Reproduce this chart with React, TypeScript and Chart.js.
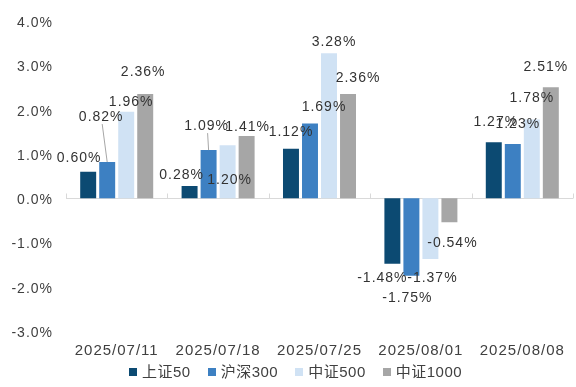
import React, { useEffect, useRef } from 'react';
import { Chart, registerables } from 'chart.js';

Chart.register(...registerables);

const categories = ['2025/07/11', '2025/07/18', '2025/07/25', '2025/08/01', '2025/08/08'];
const seriesNames = ['上证50', '沪深300', '中证500', '中证1000'];
const sz50 = [0.6, 0.28, 1.12, -1.48, 1.27];
const hs300 = [0.82, 1.09, 1.69, -1.75, 1.23];
const zz500 = [1.96, 1.2, 3.28, -1.37, 1.78];
const zz1000 = [2.36, 1.41, 2.36, -0.54, 2.51];
const yMin = -3;
const yMax = 4;
const yStep = 1;

const COLORS = ['#0c4a72', '#3d80c2', '#d0e2f4', '#a6a6a6'];
const FONT = "'Liberation Sans', 'Noto Sans CJK SC', sans-serif";

// label nudges (dx, dy) relative to bar top, mimicking the reference placement
const LABEL_NUDGE: number[][][] = [
  [[-9, -14], [-8, -11], [0, -17], [-10, 14], [2, -20]],
  [[-6, -45], [-2, -24], [14, -16], [-4, 22], [5, -20]],
  [[5, -9], [2, 35], [5, -11], [2, 19], [0, -21]],
  [[-2, -22], [1, -9], [10, -16], [3, 21], [-5, -20]],
];
const LEADERS: [number, number][] = [[1, 0], [1, 1]];

const spacingPlugin = {
  id: 'spacing',
  beforeDraw(chart: any) {
    chart.ctx.letterSpacing = '1px';
  },
  afterDraw(chart: any) {
    chart.ctx.letterSpacing = '0px';
  },
};

const axisPlugin = {
  id: 'zeroAxis',
  beforeDatasetsDraw(chart: any) {
    const { ctx, chartArea, scales } = chart;
    const y0 = Math.round(scales.y.getPixelForValue(0)) + 0.5;
    ctx.save();
    ctx.strokeStyle = '#d9d9d9';
    ctx.lineWidth = 1;
    ctx.beginPath();
    ctx.moveTo(chartArea.left, y0);
    ctx.lineTo(chartArea.right, y0);
    const n = categories.length;
    const w = (chartArea.right - chartArea.left) / n;
    for (let i = 0; i <= n; i++) {
      const x = Math.round(chartArea.left + i * w) + 0.5;
      ctx.moveTo(x, y0);
      ctx.lineTo(x, y0 - 5);
    }
    ctx.stroke();
    ctx.restore();
  },
};

const labelPlugin = {
  id: 'barLabels',
  afterDatasetsDraw(chart: any) {
    const { ctx } = chart;
    ctx.save();
    ctx.font = `14px ${FONT}`;
    ctx.fillStyle = '#333333';
    ctx.textAlign = 'center';
    ctx.textBaseline = 'middle';
    chart.data.datasets.forEach((ds: any, i: number) => {
      const meta = chart.getDatasetMeta(i);
      meta.data.forEach((bar: any, j: number) => {
        const v = ds.data[j] as number;
        const [dx, dy] = LABEL_NUDGE[i][j];
        const lx = bar.x + dx;
        const ly = bar.y + dy;
        if (LEADERS.some(([a, b]) => a === i && b === j)) {
          ctx.save();
          ctx.strokeStyle = '#a6a6a6';
          ctx.lineWidth = 1;
          ctx.beginPath();
          ctx.moveTo(lx + 1, ly + 7);
          ctx.lineTo(bar.x, bar.y);
          ctx.stroke();
          ctx.restore();
        }
        ctx.fillText(v.toFixed(2) + '%', lx, ly);
      });
    });
    ctx.restore();
  },
};

export default function App() {
  const ref = useRef<HTMLCanvasElement | null>(null);
  useEffect(() => {
    if (!ref.current) return;
    const series = [sz50, hs300, zz500, zz1000];
    const chart = new Chart(ref.current, {
      type: 'bar',
      data: {
        labels: categories,
        datasets: series.map((d, i) => ({
          label: seriesNames[i],
          data: d,
          backgroundColor: COLORS[i],
          borderWidth: 0,
          categoryPercentage: 0.75,
          barPercentage: 0.84,
        })),
      },
      options: {
        responsive: false,
        animation: false,
        layout: { padding: { top: 21, right: 3, left: 0, bottom: 0 } },
        plugins: {
          legend: { display: false },
          tooltip: { enabled: false },
        },
        scales: {
          x: {
            grid: { display: false, drawTicks: false },
            border: { display: false },
            ticks: { color: '#404040', font: { size: 15, family: FONT }, padding: 11, maxRotation: 0 },
            afterFit: (s: any) => {
              s.height = 56;
            },
          },
          y: {
            min: yMin,
            max: yMax,
            grid: { display: false, drawTicks: false },
            border: { display: false },
            ticks: {
              stepSize: yStep,
              color: '#404040',
              font: { size: 14, family: FONT },
              padding: 13,
              labelOffset: 2,
              callback: (v: any) => Number(v).toFixed(1) + '%',
            },
            afterFit: (s: any) => {
              s.width = 66;
            },
          },
        },
      },
      plugins: [spacingPlugin, axisPlugin, labelPlugin],
    });
    return () => chart.destroy();
  }, []);
  return (
    <div style={{ position: 'absolute', left: 0, top: 0, width: 576, height: 387, background: '#fff' }}>
      <canvas ref={ref} width={576} height={387} style={{ display: 'block' }} />
      <div
        style={{
          position: 'absolute',
          left: 129,
          top: 363,
          height: 18,
          display: 'flex',
          alignItems: 'center',
          fontFamily: FONT,
          fontSize: 15,
          letterSpacing: '0.5px',
          color: '#404040',
          whiteSpace: 'nowrap',
        }}
      >
        {seriesNames.map((name, i) => (
          <div key={name} style={{ display: 'flex', alignItems: 'center', marginRight: 17 }}>
            <span style={{ width: 8, height: 8, background: COLORS[i], marginRight: 5, display: 'inline-block' }} />
            <span style={{ lineHeight: '18px' }}>{name}</span>
          </div>
        ))}
      </div>
    </div>
  );
}
